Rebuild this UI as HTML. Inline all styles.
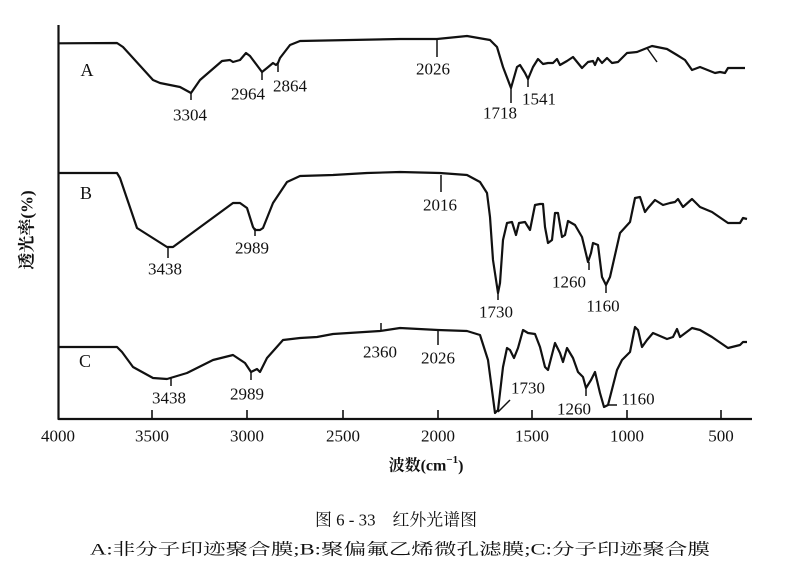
<!DOCTYPE html>
<html><head><meta charset="utf-8"><style>
html,body{margin:0;padding:0;background:#fff;}
svg{display:block;}
.n{font-family:"Liberation Serif","Noto Serif CJK SC",serif;font-size:17px;fill:#111;}
.c{font-family:"Liberation Serif","Noto Serif CJK SC","Noto Sans CJK SC",serif;fill:#111;}
</style></head><body>
<svg width="791" height="583" viewBox="0 0 791 583" xmlns="http://www.w3.org/2000/svg">
<g fill="none" stroke="#111" stroke-width="2.2" stroke-linejoin="round">
<path d="M58.5,25 V419 H752"/>
<path d="M152,419v-9M247,419v-9M343,419v-9M438,419v-9M532,419v-9M627,419v-9M721,419v-9" stroke-width="1.6"/>
<!-- A -->
<path d="M58.7,43.3 L117,43 123,47 153,80 160,83 180,87 191,93 200,80 222,61 230,60 233,62 240,60 246,53 250,56 262,72 267,68 273,63 276,65 278,63 280,58 290,45 300,41 400,39 437,39 467,36 490,40 497,47 503,67 511,88 517,67 520,65 525,73 528,79 533,67 538,59 543,64 548,63 553,63 557,59 560,65 567,61 573,57 582,68 588,62 593,61 595,65 598,58 602,63 607,58 612,63 618,62 627,53 637,52 647,48 652,46 657,47 667,49 677,55 685,60 692,70 700,67 715,73 720,72 725,73 728,68 745,68"/>
<path d="M647,48 L657,62M191,93v7M262,72v8M278,62v10M437,39v18M511,88v15M528,79v8" stroke-width="1.5"/>
<!-- B -->
<path d="M58.7,173 L117,173 120,178 137,228 167,247 173,247 233,203 240,203 247,208 253,227 255,230 260,230 263,228 273,203 287,182 300,176 333,175 367,173 400,172 440,173 467,175 480,182 487,193 490,217 493,260 498,293 500,283 503,240 507,223 512,222 516,235 519,223 525,222 530,230 535,205 540,204 543,204 545,227 548,243 552,240 555,213 558,213 562,237 565,235 568,221 575,225 582,237 588,262 591,253 593,243 598,245 602,277 606,285 610,277 620,233 630,222 635,198 640,197 645,212 648,208 655,200 663,205 670,203 675,202 678,199 683,207 692,199 700,207 712,212 728,223 740,223 743,218 747,219"/>
<path d="M168,247v11M255,228v8M441,175v17M498,293v7M589,262v8M606,285v8" stroke-width="1.5"/>
<!-- C -->
<path d="M58.7,347 L117,347 122,352 133,367 153,378 167,379 187,373 213,360 233,355 245,363 251,372 257,369 260,372 267,358 283,340 300,338 317,337 333,334 380,331 400,328 438,330 467,331 480,335 488,360 495,413 498,410 503,367 507,348 510,350 514,358 518,348 523,330 528,333 535,334 540,347 545,367 548,370 555,343 560,353 563,362 567,348 573,358 578,372 583,377 586,388 591,380 595,372 600,393 604,407 608,405 617,370 622,360 630,352 635,327 638,330 642,347 647,340 653,333 667,339 673,337 677,329 680,337 692,328 700,330 712,337 728,348 740,345 743,342 747,342"/>
<path d="M171,377v9M251,372v8M381,331v-8M438,330v15M498,412L510,400M586,388v8M608,405h9" stroke-width="1.5"/>
</g>
<g class="n" text-anchor="middle" dominant-baseline="central">
<text x="87" y="70" font-size="18">A</text>
<text x="86" y="193" font-size="18">B</text>
<text x="85" y="361" font-size="18">C</text>
<text x="190" y="115">3304</text>
<text x="248" y="94">2964</text>
<text x="290" y="86">2864</text>
<text x="433" y="69">2026</text>
<text x="500" y="113">1718</text>
<text x="539" y="99">1541</text>
<text x="165" y="269">3438</text>
<text x="252" y="248">2989</text>
<text x="440" y="205">2016</text>
<text x="496" y="312">1730</text>
<text x="569" y="282">1260</text>
<text x="603" y="306">1160</text>
<text x="169" y="398">3438</text>
<text x="247" y="394">2989</text>
<text x="380" y="352">2360</text>
<text x="438" y="358">2026</text>
<text x="528" y="388">1730</text>
<text x="574" y="409">1260</text>
<text x="638" y="399">1160</text>
<text x="58" y="436">4000</text>
<text x="152" y="436">3500</text>
<text x="247" y="436">3000</text>
<text x="343" y="436">2500</text>
<text x="438" y="436">2000</text>
<text x="532" y="436">1500</text>
<text x="627" y="436">1000</text>
<text x="721" y="436">500</text>
</g>
<text class="c" x="27" y="230" font-size="17" font-weight="bold" text-anchor="middle" dominant-baseline="central" transform="rotate(-90 27 230)">透光率(%)</text>
<text class="c" x="426" y="466" font-size="16" font-weight="bold" text-anchor="middle" dominant-baseline="central">波数(cm<tspan dy="-6" font-size="11">−1</tspan><tspan dy="6">)</tspan></text>
<text class="c" x="396" y="520" font-size="17" text-anchor="middle" dominant-baseline="central" textLength="162" lengthAdjust="spacingAndGlyphs">图 6 - 33　红外光谱图</text>
<text class="c" x="400" y="550" font-size="16" text-anchor="middle" dominant-baseline="central" textLength="620" lengthAdjust="spacingAndGlyphs">A:非分子印迹聚合膜;B:聚偏氟乙烯微孔滤膜;C:分子印迹聚合膜</text>
</svg>
</body></html>
